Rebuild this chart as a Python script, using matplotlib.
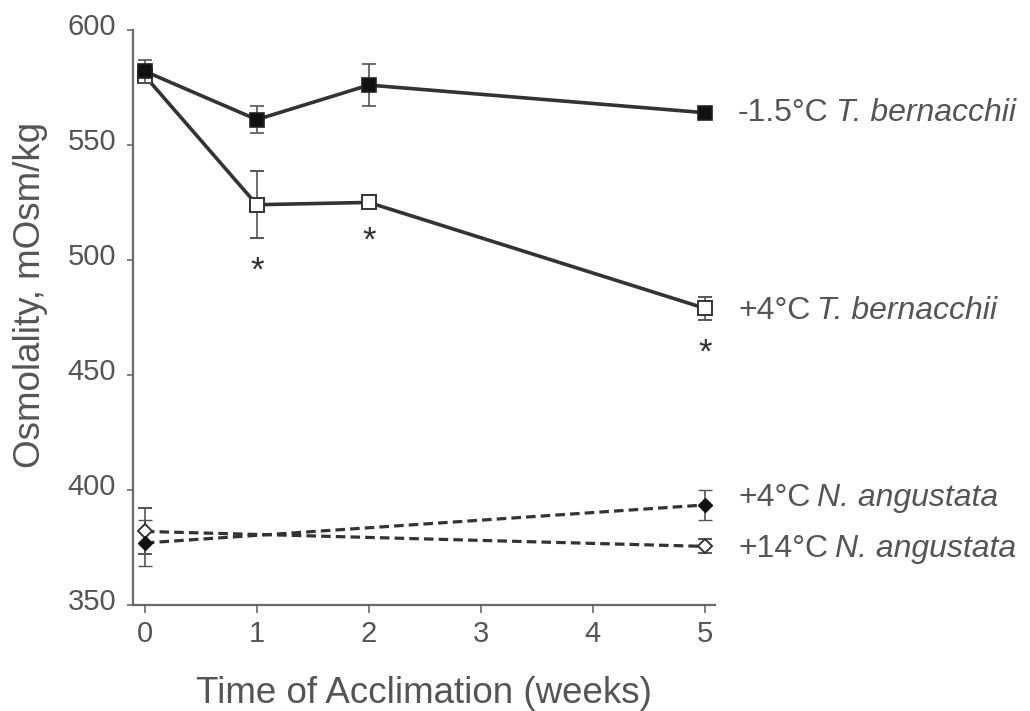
import matplotlib
matplotlib.use("Agg")
import matplotlib.pyplot as plt
import matplotlib.transforms as mtransforms

plt.rcParams['font.family'] = ['Liberation Sans', 'DejaVu Sans']

# Plasma osmolality during thermal acclimation
weeks_tb = [0, 1, 2, 5]
tb_cold = [582, 561, 576, 564]        # -1.5 °C T. bernacchii
tb_cold_err = [5, 6, 9, 2]
tb_warm = [580, 524, 525, 479]        # +4 °C T. bernacchii
tb_warm_err = [3, 14.5, 2.5, 5]

weeks_na = [0, 5]
na_4 = [377, 393.5]                   # +4 °C N. angustata
na_4_err = [10, 6.5]
na_14 = [382, 375.5]                  # +14 °C N. angustata
na_14_err = [10, 3]

signif_weeks = [1, 2, 5]              # warm T. bernacchii differs from cold

x_ticks = [0, 1, 2, 3, 4, 5]
y_ticks = [350, 400, 450, 500, 550, 600]

line_c = '#333333'
text_c = '#555555'
axis_c = '#6a6a6a'

fig = plt.figure(figsize=(10.30, 7.11), dpi=100)
ax = fig.add_axes([0.129, 0.149, 0.565, 0.809])

eb_kw = dict(ecolor='#555555', elinewidth=1.2, capsize=5, capthick=1.2)

ax.errorbar(weeks_na, na_14, yerr=na_14_err, color=line_c, lw=2.3, ls=(0, (3, 1.6)),
            marker='D', ms=7, mfc='white', mec=line_c, mew=1.4, zorder=3, **eb_kw)
ax.errorbar(weeks_na, na_4, yerr=na_4_err, color=line_c, lw=2.3, ls=(0, (3, 1.6)),
            marker='D', ms=7, mfc='#111111', mec='#111111', mew=1.0, zorder=3, **eb_kw)
ax.errorbar(weeks_tb, tb_warm, yerr=tb_warm_err, color=line_c, lw=2.6,
            marker='s', ms=10.5, mfc='white', mec=line_c, mew=1.4, zorder=3, **eb_kw)
ax.errorbar(weeks_tb, tb_cold, yerr=tb_cold_err, color=line_c, lw=2.6,
            marker='s', ms=10.5, mfc='#111111', mec='#222222', mew=1.2, zorder=4, **eb_kw)

# significance marks under the warm-acclimated T. bernacchii points
for w in signif_weeks:
    i = weeks_tb.index(w)
    ax.annotate('*', xy=(w, tb_warm[i] - tb_warm_err[i]), xytext=(0, -12),
                textcoords='offset points', ha='center', va='top',
                fontsize=25, color='#333333')

# series labels at the right-hand end of each line
labels = [
    ('-1.5°C', 'T. bernacchii', tb_cold[-1], 0),
    ('+4°C', 'T. bernacchii', tb_warm[-1], -2),
    ('+4°C', 'N. angustata', na_4[-1], 5),
    ('+14°C', 'N. angustata', na_14[-1], -2),
]
for prefix, species, yv, dy in labels:
    t1 = ax.annotate(prefix, xy=(5, yv), xytext=(24, dy), textcoords='offset points',
                     ha='left', va='center', fontsize=23, color=text_c,
                     annotation_clip=False)
    ax.annotate(species, xy=(1, 0), xycoords=t1, xytext=(5, 0),
                textcoords='offset points', ha='left', va='bottom',
                fontsize=23, color=text_c, style='italic')

ax.set_xlim(-0.107, 5.09)
ax.set_ylim(350, 600)
ax.set_xticks(x_ticks)
ax.set_yticks(y_ticks)

for s in ['top', 'right']:
    ax.spines[s].set_visible(False)
for s in ['left', 'bottom']:
    ax.spines[s].set_color(axis_c)
    ax.spines[s].set_linewidth(1.6)

ax.tick_params(axis='both', colors=axis_c, labelcolor=text_c, labelsize=21,
               width=1.2, direction='out')
ax.tick_params(axis='y', length=4, pad=8)
ax.tick_params(axis='x', length=6, pad=5)

# y tick labels sit slightly above their tick marks
shift = mtransforms.ScaledTranslation(0, 4.5 / 72, fig.dpi_scale_trans)
for lab in ax.get_yticklabels():
    lab.set_transform(lab.get_transform() + shift)

ax.set_xlabel('Time of Acclimation (weeks)', fontsize=26.5, color=text_c, labelpad=20)
ax.set_ylabel('Osmolality, mOsm/kg', fontsize=26.5, color=text_c)
ax.yaxis.set_label_coords(-0.146, 0.54)

fig.savefig('out.png', dpi=100, facecolor='white')
